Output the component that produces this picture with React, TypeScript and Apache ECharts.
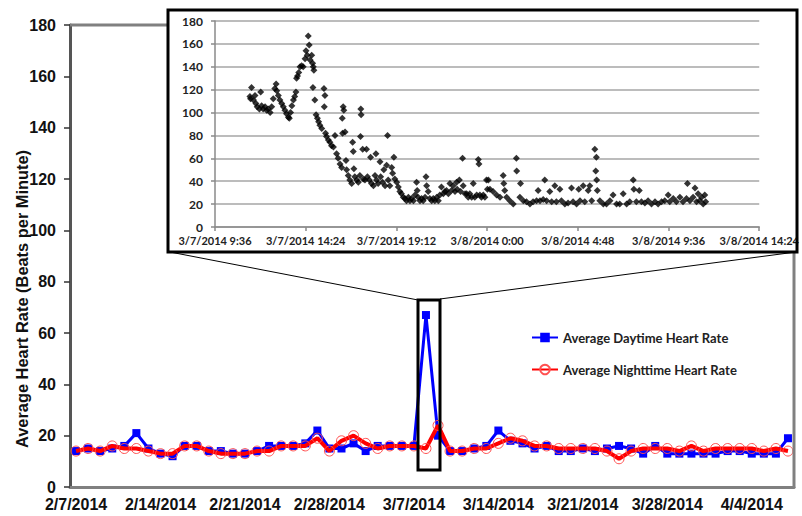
import React, { useEffect, useRef } from "react";
import * as echarts from "echarts";

const dates = [
  "2/7/2014", "2/8/2014", "2/9/2014", "2/10/2014", "2/11/2014", "2/12/2014", "2/13/2014",
  "2/14/2014", "2/15/2014", "2/16/2014", "2/17/2014", "2/18/2014", "2/19/2014", "2/20/2014",
  "2/21/2014", "2/22/2014", "2/23/2014", "2/24/2014", "2/25/2014", "2/26/2014", "2/27/2014",
  "2/28/2014", "3/1/2014", "3/2/2014", "3/3/2014", "3/4/2014", "3/5/2014", "3/6/2014",
  "3/7/2014", "3/8/2014", "3/9/2014", "3/10/2014", "3/11/2014", "3/12/2014", "3/13/2014",
  "3/14/2014", "3/15/2014", "3/16/2014", "3/17/2014", "3/18/2014", "3/19/2014", "3/20/2014",
  "3/21/2014", "3/22/2014", "3/23/2014", "3/24/2014", "3/25/2014", "3/26/2014", "3/27/2014",
  "3/28/2014", "3/29/2014", "3/30/2014", "3/31/2014", "4/1/2014", "4/2/2014", "4/3/2014",
  "4/4/2014", "4/5/2014", "4/6/2014", "4/7/2014",
];

const daytimeRate = [
  14, 15, 14, 15, 16, 21, 15, 13, 12, 16,
  16, 14, 14, 13, 13, 14, 16, 16, 16, 17,
  22, 15, 15, 17, 14, 16, 16, 16, 16, 67,
  20, 14, 14, 15, 16, 22, 18, 17, 15, 16,
  14, 14, 15, 14, 15, 16, 15, 13, 16, 13,
  13, 13, 13, 13, 14, 14, 13, 13, 13, 19,
];

const nighttimeRate = [
  14, 15, 14, 16, 15, 15, 14, 13, 13, 16,
  16, 14, 13, 13, 13, 14, 14, 16, 16, 16,
  19, 14, 18, 20, 17, 15, 16, 16, 16, 15,
  24, 14, 14, 15, 15, 17, 19, 18, 16, 16,
  15, 15, 15, 15, 14, 11, 14, 15, 15, 15,
  14, 16, 14, 15, 15, 15, 15, 14, 15, 14,
];

// inset: [minutes since 3/7/2014 9:36, beats per minute]
const insetReadings = [
  [111, 114], [116, 122], [113, 112], [122, 111], [127, 115], [130, 108], [134, 105], [141, 103],
  [145, 118], [148, 106], [153, 103], [159, 105], [164, 102], [169, 103], [175, 100], [180, 105],
  [185, 112], [190, 121], [194, 125], [196, 119], [201, 115], [206, 111], [212, 108], [217, 105],
  [222, 102], [227, 99], [233, 96], [236, 95], [240, 100], [244, 106], [249, 111], [253, 114],
  [257, 118], [259, 130], [262, 132], [266, 135], [270, 140], [275, 141], [280, 140], [286, 147],
  [289, 154], [293, 150], [296, 167], [299, 159], [302, 146], [307, 150], [310, 143], [312, 140],
  [314, 137], [311, 122], [317, 111], [321, 98], [325, 95], [329, 92], [333, 89], [339, 86],
  [346, 121], [349, 115], [347, 105], [351, 82], [354, 79], [360, 76], [365, 74], [370, 71],
  [376, 70], [381, 80], [386, 64], [391, 60], [397, 55], [402, 52], [404, 95], [407, 105],
  [409, 102], [405, 82], [413, 83], [416, 58], [418, 50], [423, 45], [428, 41], [434, 38],
  [437, 74], [439, 66], [441, 51], [444, 44], [450, 41], [455, 39], [460, 45], [463, 103],
  [464, 98], [462, 79], [469, 68], [471, 42], [476, 41], [481, 68], [484, 44], [490, 41],
  [494, 61], [497, 38], [503, 36], [508, 45], [511, 64], [513, 41], [518, 38], [524, 57],
  [526, 44], [532, 39], [536, 50], [540, 36], [545, 54], [548, 80], [550, 41], [555, 36],
  [561, 52], [564, 47], [568, 61], [571, 42], [577, 39], [582, 35], [587, 31], [592, 29],
  [598, 26], [603, 25], [608, 23], [614, 26], [619, 23], [624, 25], [630, 23], [635, 28],
  [640, 39], [642, 32], [645, 26], [651, 23], [656, 25], [661, 23], [667, 26], [670, 44],
  [672, 36], [677, 31], [682, 25], [688, 23], [693, 25], [698, 23], [704, 26], [709, 23],
  [714, 28], [719, 35], [725, 29], [730, 31], [735, 32], [741, 29], [746, 38], [751, 32],
  [756, 36], [762, 31], [767, 39], [769, 33], [776, 41], [780, 31], [786, 60], [788, 36],
  [794, 29], [799, 29], [804, 26], [809, 29], [815, 26], [820, 38], [825, 26], [831, 28],
  [836, 59], [838, 55], [841, 28], [846, 26], [852, 28], [857, 26], [862, 41], [865, 33],
  [868, 41], [873, 33], [883, 31], [894, 28], [905, 26], [915, 45], [917, 38], [920, 32],
  [926, 26], [936, 23], [947, 20], [957, 60], [958, 49], [970, 38], [968, 26], [979, 23],
  [989, 22], [1000, 20], [1010, 22], [1021, 23], [1026, 32], [1032, 23], [1042, 24], [1047, 41],
  [1053, 23], [1063, 31], [1069, 22], [1079, 36], [1084, 22], [1095, 33], [1100, 23], [1111, 20],
  [1121, 21], [1132, 34], [1137, 22], [1148, 20], [1155, 33], [1159, 23], [1169, 36], [1174, 22],
  [1185, 32], [1190, 36], [1196, 23], [1206, 68], [1211, 61], [1209, 49], [1212, 41], [1214, 32],
  [1222, 23], [1233, 20], [1243, 20], [1254, 23], [1264, 28], [1275, 20], [1285, 20], [1296, 29],
  [1307, 20], [1317, 22], [1328, 41], [1330, 33], [1338, 22], [1347, 32], [1354, 22], [1365, 21],
  [1375, 23], [1386, 20], [1397, 22], [1407, 20], [1418, 22], [1428, 23], [1439, 28], [1444, 22],
  [1455, 25], [1465, 22], [1476, 26], [1486, 22], [1497, 25], [1500, 38], [1508, 23], [1518, 26],
  [1524, 34], [1529, 22], [1534, 29], [1539, 23], [1545, 26], [1550, 20], [1555, 28], [1558, 22],
];

const insetTickLabels = [
  "3/7/2014 9:36", "3/7/2014 14:24", "3/7/2014 19:12", "3/8/2014 0:00",
  "3/8/2014 4:48", "3/8/2014 9:36", "3/8/2014 14:24",
];

const yAxisTitle = "Average Heart Rate (Beats per Minute)";
const seriesNames = ["Average Daytime Heart Rate", "Average Nighttime Heart Rate"];

export default function App() {
  const ref = useRef<HTMLDivElement>(null);
  useEffect(() => {
    if (!ref.current) return;
    const chart = echarts.init(ref.current, null, { renderer: "svg" });
    const arial = "'Liberation Sans', Arial, sans-serif";
    const calibri = "Lato, 'Open Sans', sans-serif";
    chart.setOption({
      animation: false,
      backgroundColor: "#ffffff",
      grid: [
        { left: 70, top: 25, right: 8, bottom: 29 },
        { left: 215, top: 21, right: 42, bottom: 289 },
      ],
      xAxis: [
        {
          gridIndex: 0,
          type: "category",
          data: dates,
          boundaryGap: true,
          axisLine: { lineStyle: { color: "#808080", width: 3 } },
          axisTick: { interval: 6, length: 6, lineStyle: { color: "#333", width: 1.5 } },
          axisLabel: {
            interval: 6, margin: 9, fontFamily: arial, fontWeight: "bold", fontSize: 16, color: "#111",
          },
        },
        {
          gridIndex: 1,
          type: "value",
          min: 0,
          max: 1728,
          interval: 288,
          splitLine: { show: false },
          axisLine: { show: true, lineStyle: { color: "#8a8a8a", width: 1.5 } },
          axisTick: { show: true, length: 4, lineStyle: { color: "#8a8a8a", width: 1.5 } },
          axisLabel: {
            margin: 8, fontFamily: calibri, fontWeight: "bold", fontSize: 11, color: "#222",
            formatter: (v: number) => insetTickLabels[Math.round(v / 288)] ?? "",
          },
        },
      ],
      yAxis: [
        {
          gridIndex: 0,
          type: "value",
          min: 0,
          max: 180,
          interval: 20,
          splitLine: { show: false },
          axisLine: { show: true, lineStyle: { color: "#555", width: 3 } },
          axisTick: { show: true, length: 6, lineStyle: { color: "#333", width: 1.5 } },
          axisLabel: { margin: 14, fontFamily: arial, fontWeight: "bold", fontSize: 16, color: "#111" },
        },
        {
          gridIndex: 1,
          type: "value",
          min: 0,
          max: 180,
          interval: 20,
          splitLine: { show: true, lineStyle: { color: "#a6a6a6", width: 1.5 } },
          axisLine: { show: true, lineStyle: { color: "#8a8a8a", width: 1.5 } },
          axisTick: { show: true, length: 4, lineStyle: { color: "#8a8a8a", width: 1.5 } },
          axisLabel: { margin: 12, fontFamily: calibri, fontWeight: "bold", fontSize: 12, color: "#222" },
        },
      ],
      legend: {
        left: 526,
        top: 326,
        orient: "vertical",
        itemGap: 19,
        itemWidth: 26,
        itemHeight: 12,
        data: seriesNames,
        textStyle: { fontFamily: calibri, fontWeight: "bold", fontSize: 13, color: "#222" },
      },
      series: [
        {
          name: seriesNames[0],
          type: "line",
          xAxisIndex: 0,
          yAxisIndex: 0,
          data: daytimeRate,
          symbol: "rect",
          symbolSize: 8,
          showSymbol: true,
          showAllSymbol: true,
          lineStyle: { color: "#0000ff", width: 3 },
          itemStyle: { color: "#0000ff" },
          z: 3,
        },
        {
          name: seriesNames[1],
          type: "line",
          xAxisIndex: 0,
          yAxisIndex: 0,
          data: nighttimeRate,
          symbol: "circle",
          symbolSize: 10,
          showSymbol: true,
          showAllSymbol: true,
          lineStyle: { color: "#ff0000", width: 4 },
          itemStyle: { color: "rgba(255,255,255,0)", borderColor: "#ff5050", borderWidth: 1 },
          z: 4,
        },
        {
          name: "inset",
          type: "scatter",
          xAxisIndex: 1,
          yAxisIndex: 1,
          data: insetReadings,
          symbol: "diamond",
          symbolSize: 7,
          itemStyle: { color: "#000" },
        },
      ],
      graphic: [
        { type: "line", z: 10, shape: { x1: 70, y1: 25, x2: 168, y2: 25 }, style: { stroke: "#808080", lineWidth: 3 } },
        { type: "line", z: 10, shape: { x1: 794, y1: 252, x2: 794, y2: 488 }, style: { stroke: "#808080", lineWidth: 3 } },
        { type: "rect", z: 10, shape: { x: 168, y: 10, width: 629, height: 242 }, style: { fill: "none", stroke: "#000", lineWidth: 3 } },
        { type: "rect", z: 10, shape: { x: 418, y: 300, width: 22, height: 170 }, style: { fill: "none", stroke: "#000", lineWidth: 3 } },
        { type: "line", z: 10, shape: { x1: 170, y1: 252, x2: 418, y2: 300 }, style: { stroke: "#000", lineWidth: 1 } },
        { type: "line", z: 10, shape: { x1: 440, y1: 299, x2: 796, y2: 252 }, style: { stroke: "#000", lineWidth: 1 } },
        {
          type: "text", z: 10, x: 22, y: 299, rotation: Math.PI / 2,
          style: {
            text: yAxisTitle, fontFamily: arial, fontWeight: "bold", fontSize: 16.4, fill: "#111",
            textAlign: "center", textVerticalAlign: "middle",
          },
        },
      ],
    });
    return () => chart.dispose();
  }, []);
  return <div ref={ref} style={{ position: "absolute", left: 0, top: 0, width: 802, height: 516 }} />;
}
